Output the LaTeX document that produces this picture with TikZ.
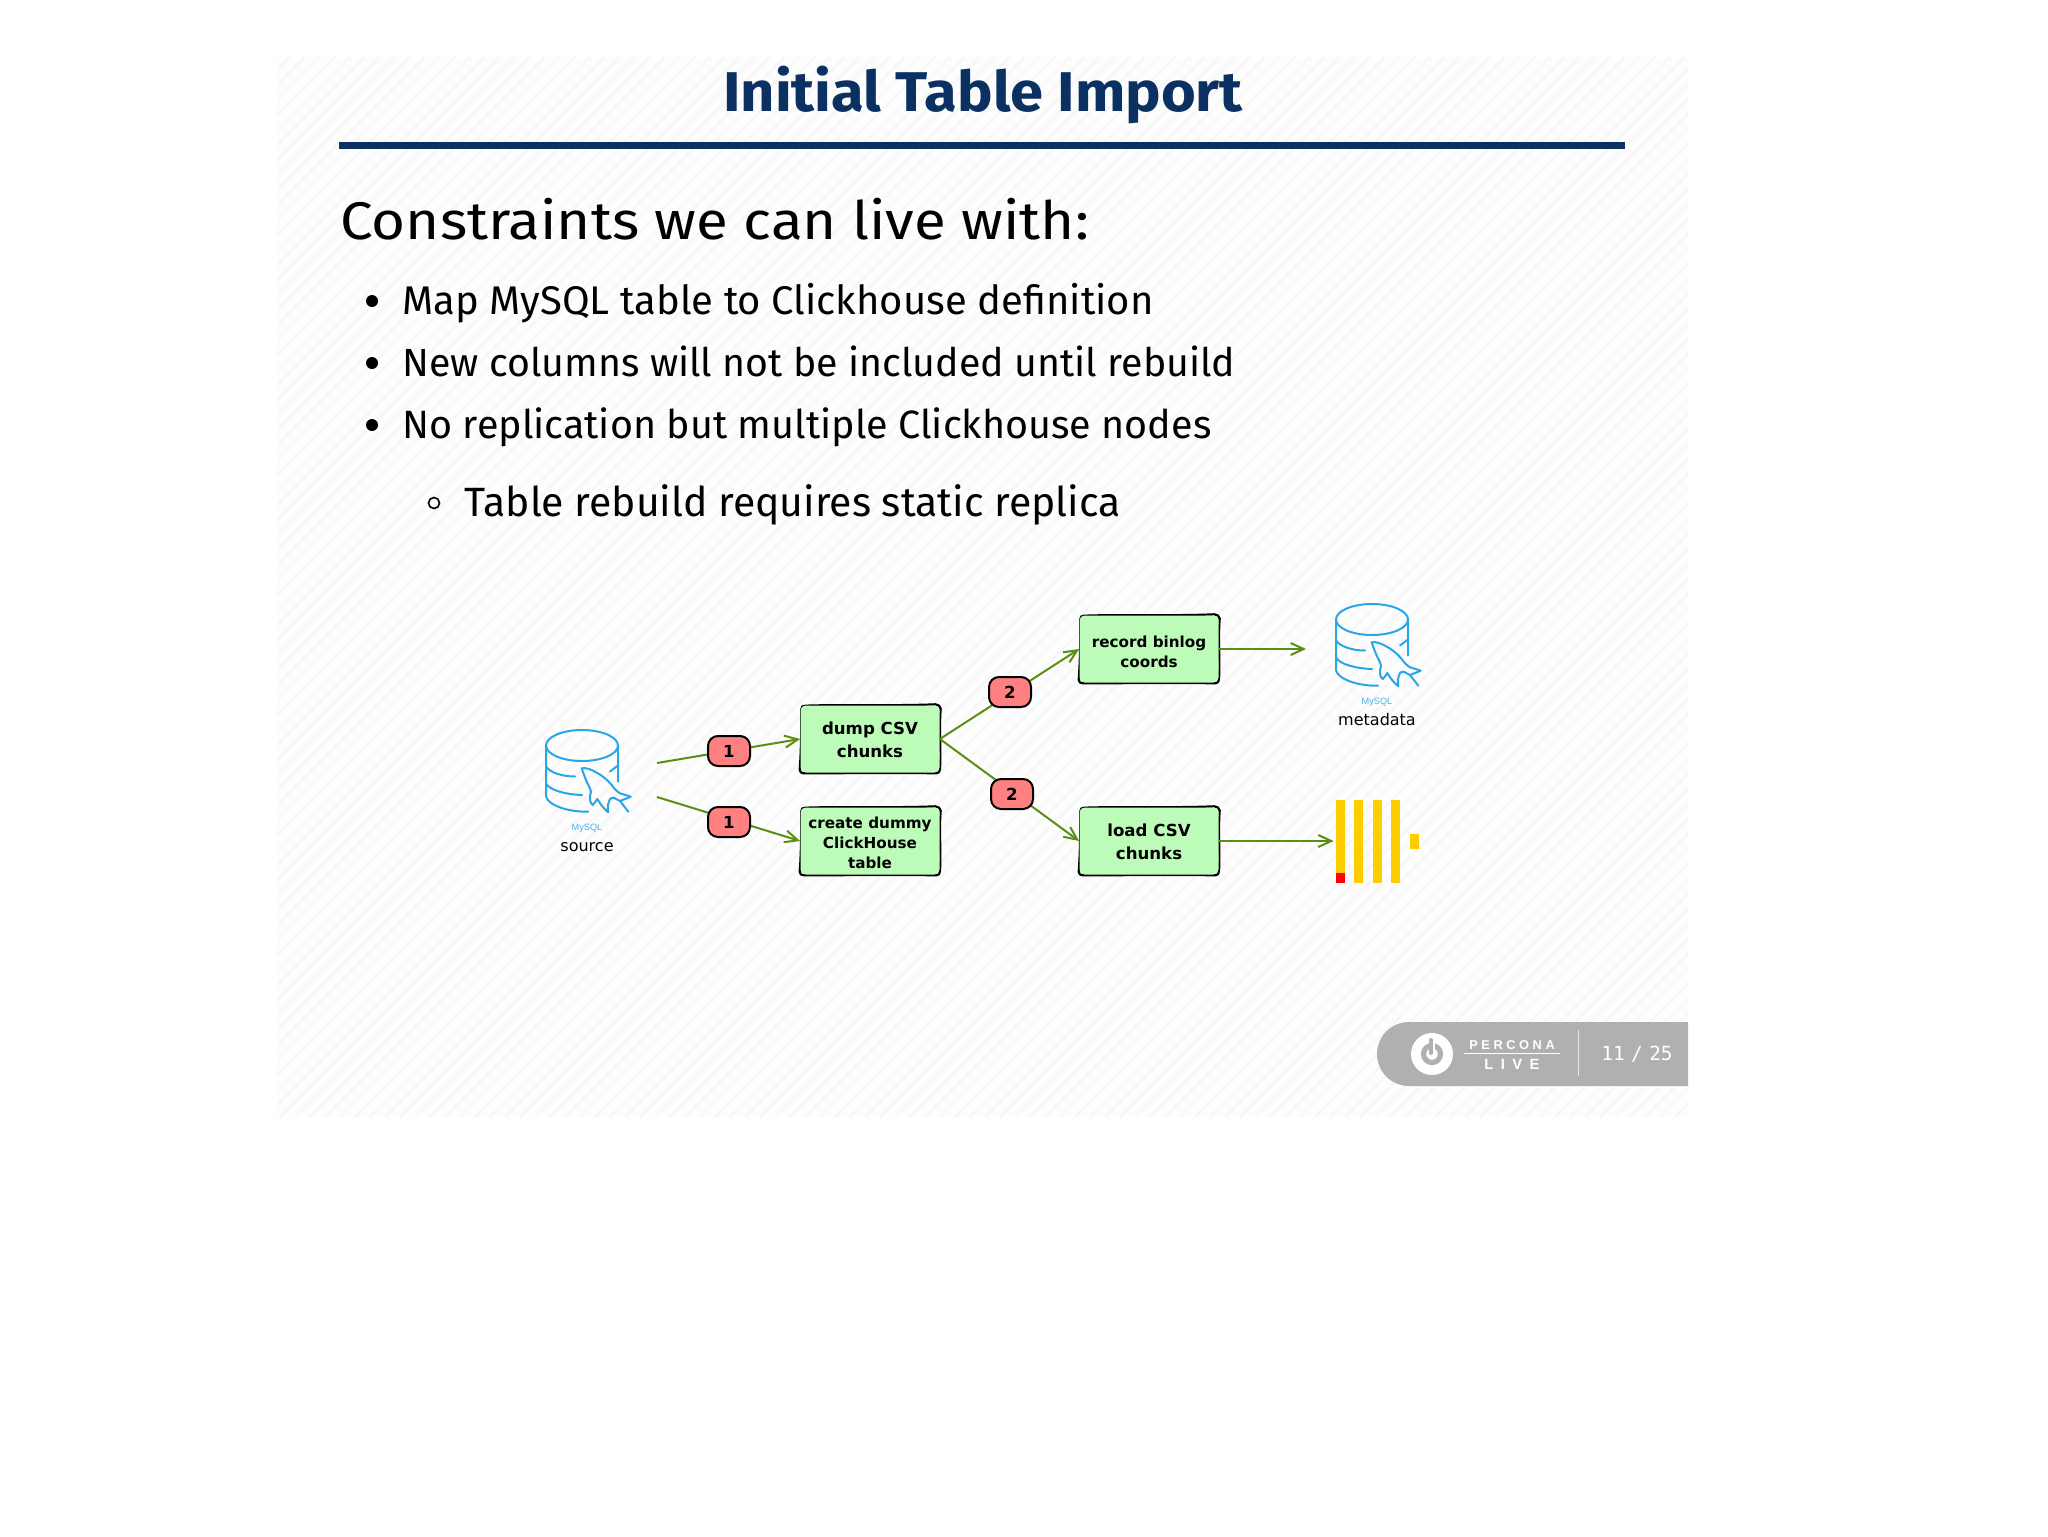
\documentclass[tikz,border=0pt]{standalone}
\usepackage{fontspec}
\usepackage{xcolor}
\setmainfont{Fira Sans}
\newfontfamily\titlefont[FakeStretch=1.065]{Fira Sans}
\newfontfamily\headfont[FakeStretch=1.1]{Fira Sans}
\newfontfamily\diagramfont{DejaVu Sans}
\newfontfamily\brandfont{Liberation Sans}
\newfontfamily\footerfont[LetterSpace=28]{Liberation Sans}
\newfontfamily\livefont[LetterSpace=50]{Liberation Sans}
\newfontfamily\pagefont[WordSpace=0.55]{DejaVu Sans Mono}
\usetikzlibrary{arrows.meta}

\definecolor{titleblue}{HTML}{0B3163}
\definecolor{slidepaper}{HTML}{FDFDFD}
\definecolor{slidehatch}{HTML}{F7F7F7}
\definecolor{boxgreen}{HTML}{BDFBB9}
\definecolor{badgered}{HTML}{FF8080}
\definecolor{flowgreen}{HTML}{5A8F14}
\definecolor{mysqlblue}{HTML}{29A6E6}
\definecolor{footergrey}{HTML}{B0AFB2}
\definecolor{chyellow}{HTML}{FFCC00}

\newcommand{\sketchoutline}{\draw[black, line width=1.1pt, line join=round]
	([xshift=0.6pt,yshift=-2.2pt]\tikzlastnode.north west) .. controls +(0pt,1.6pt) and +(-1.4pt,-0.2pt) .. ([xshift=2.6pt,yshift=-0.3pt]\tikzlastnode.north west)
	.. controls +(20pt,0.7pt) and +(-20pt,-0.9pt) .. ([xshift=-2.2pt,yshift=0.4pt]\tikzlastnode.north east)
	.. controls +(1.2pt,0pt) and +(0pt,1.2pt) .. ([xshift=0.4pt,yshift=-1.8pt]\tikzlastnode.north east)
	.. controls +(-0.9pt,-10pt) and +(0.7pt,8pt) .. ([xshift=0pt,yshift=1.8pt]\tikzlastnode.south east)
	.. controls +(0pt,-1.2pt) and +(1.2pt,0pt) .. ([xshift=-1.8pt,yshift=-0.2pt]\tikzlastnode.south east)
	.. controls +(-20pt,0.4pt) and +(20pt,0pt) .. ([xshift=1.8pt,yshift=-0.2pt]\tikzlastnode.south west)
	.. controls +(-1.2pt,0pt) and +(0pt,-1.2pt) .. ([xshift=-0.2pt,yshift=1.6pt]\tikzlastnode.south west)
	.. controls +(0.8pt,10pt) and +(0pt,-8pt) .. cycle;}

\tikzset{
	bodytext/.style={anchor=base west, inner sep=0pt, text=black},
	bulletdot/.style={circle, fill=black, inner sep=0pt, minimum size=6pt},
	bullethollow/.style={circle, draw=black, line width=0.8pt, inner sep=0pt, minimum size=5.5pt},
	stepbox/.style={fill=boxgreen, rounded corners=2.5pt, inner sep=0pt, minimum width=69.5pt, minimum height=33.5pt, align=center, text=black, font=\diagramfont\bfseries\fontsize{8.3}{11.5}\selectfont, append after command={\pgfextra{\sketchoutline}}},
	smallbox/.style={stepbox, font=\diagramfont\bfseries\fontsize{7.6}{10}\selectfont},
	badge/.style={draw=black, fill=badgered, line width=1pt, rounded corners=5pt, inner sep=0pt, minimum width=21pt, minimum height=15pt, text=black, font=\diagramfont\bfseries\fontsize{8.3}{10}\selectfont},
	flow/.style={draw=flowgreen, line width=1pt, -{Straight Barb[length=6.5pt, width=6pt, line width=1pt]}},
	brandtext/.style={inner sep=0pt, text=mysqlblue!85!white, font=\brandfont\fontsize{4.6}{5}\selectfont},
	dbtext/.style={inner sep=0pt, text=black, font=\diagramfont\fontsize{8}{10}\selectfont},
	footertext/.style={inner sep=0pt, text=white, font=\footerfont\bfseries\fontsize{6.4}{7}\selectfont},
	livetext/.style={inner sep=0pt, text=white, font=\livefont\bfseries\fontsize{7.4}{8}\selectfont},
	dbstroke/.style={draw=mysqlblue, line width=1pt, line cap=round, line join=round},
	mysqlicon/.pic={
		\draw[dbstroke] (0,0) ellipse (36 and 15.5);
		\draw[dbstroke] (-36,0) -- (-36,51) .. controls (-34,60) and (-12,67) .. (6,66);
		\draw[dbstroke] (36,0) -- (36,36);
		\draw[dbstroke] (-36,21) .. controls (-32,27) and (-20,31) .. (-7,31);
		\draw[dbstroke] (-36,38) .. controls (-32,45) and (-16,49) .. (0,49.5);
		\draw[dbstroke] (28,26) -- (36,20);
		\draw[dbstroke] (-0.3,22.8) .. controls (4,22) and (9,24) .. (13,26.2) .. controls (19,29) and (25,34) .. (29.7,39.5) .. controls (32,43) and (35,46) .. (38,47.8) .. controls (42,49) and (45,50) .. (48.7,51.2) .. controls (45,53) and (41,54) .. (38,55.5) -- (46.3,66.2);
		\draw[dbstroke] (38,55.5) .. controls (35,54) and (33,53) .. (32,52.2) .. controls (30,52) and (29,53) .. (28,53.5) .. controls (26,58) and (25,62) .. (26.3,66.8) .. controls (24,65) and (22,63) .. (20.7,61.2) .. controls (18,58) and (17,56) .. (15.3,53.5) .. controls (14,56) and (12,58) .. (10.7,59.5) .. controls (9,58) and (8,56) .. (8,54.5) .. controls (7,51) and (9,49) .. (9,46.2) .. controls (8,42) and (6,39) .. (4.7,36.2) .. controls (3,32) and (1,27) .. (-0.3,22.8);
	},
}

\begin{document}
\begin{tikzpicture}[x=0.5pt, y=-0.5pt]
		      \useasboundingbox (0,0) rectangle (2048,1536);
		      \fill[white] (0,0) rectangle (2048,1536);
		      \begin{scope}
		      \clip (277,57) rectangle (1688,1117);
		      \fill[slidepaper] (277,57) rectangle (1688,1117);
		      \foreach \hatchx in {-785,-770,...,1690} {
		      \draw[slidehatch, line width=1.2pt] (\hatchx,1117) -- ++(1060,-1060);
		      }
		      \end{scope}

		      \node[inner sep=0pt, anchor=base, text=titleblue, font=\titlefont\bfseries\fontsize{28}{32}\selectfont] (title) at (983,112) {Initial Table Import};
		      \fill[titleblue] (339,142) rectangle (1625,149);

		      \node[bodytext, font=\headfont\fontsize{26.5}{32}\selectfont] (heading) at (340,239) {Constraints we can live with:};
		      \node[bodytext, font=\fontsize{20}{24}\selectfont] (itemmap) at (402,314) {Map MySQL table to Clickhouse definition};
		      \node[bodytext, font=\fontsize{19.65}{24}\selectfont] (itemcolumns) at (402,376) {New columns will not be included until rebuild};
		      \node[bodytext, font=\fontsize{19.75}{24}\selectfont] (itemreplica) at (402,438) {No replication but multiple Clickhouse nodes};
		      \node[bodytext, font=\fontsize{20.45}{24}\selectfont] (itemstatic) at (464,516) {Table rebuild requires static replica};
		      \node[bulletdot] (dotmap) at (372,301) {};
		      \node[bulletdot] (dotcolumns) at (372,363) {};
		      \node[bulletdot] (dotreplica) at (372,425) {};
		      \node[bullethollow] (dotstatic) at (434,503) {};

		      \node[stepbox, text height=18.3pt] (dump) at (870,739) {dump CSV\\chunks};
		      \node[smallbox, text height=27.3pt] (create) at (870,841) {create dummy\\ClickHouse\\table};
		      \node[smallbox, text height=18.3pt] (record) at (1149,649) {record binlog\\coords};
		      \node[stepbox, text height=18.8pt] (load) at (1149,841) {load CSV\\chunks};

		      \pic at (582,745.5) {mysqlicon};
		      \node[brandtext] (sourcebrand) at (587,828) {MySQL};
		      \node[dbtext] (source) at (587,847) {source};
		      \pic at (1372,619.5) {mysqlicon};
		      \node[brandtext] (metabrand) at (1377,702) {MySQL};
		      \node[dbtext] (metadata) at (1377,720) {metadata};

		      \node[inner sep=0pt, minimum width=41.5pt, minimum height=41.5pt] (clickhouse) at (1377.5,841) {};
		      \fill[chyellow] (1336,800) rectangle (1345,883);
		      \fill[chyellow] (1354,800) rectangle (1363,883);
		      \fill[chyellow] (1373,800) rectangle (1382,883);
		      \fill[chyellow] (1391,800) rectangle (1400,883);
		      \fill[chyellow] (1410,834) rectangle (1419,849);
		      \fill[red] (1336,873) rectangle (1345,883);

		      \coordinate (sourceup) at (657,763);
		      \coordinate (sourcelow) at (657,797);
		      \coordinate (metain) at (1306,649);

		      \draw[flow] (sourceup) -- (dump.west);
		      \draw[flow] (sourcelow) -- (create.west);
		      \draw[flow] (dump.east) -- (record.west);
		      \draw[flow] (dump.east) -- (load.west);
		      \draw[flow] (record.east) -- (metain);
		      \draw[flow, shorten >=1pt] (load.east) -- (clickhouse.west);

		      \node[badge] (badgedump) at (729,751) {1};
		      \node[badge] (badgecreate) at (729,822) {1};
		      \node[badge] (badgerecord) at (1010,692) {2};
		      \node[badge] (badgeload) at (1012,794) {2};

		      \begin{scope}
		      \clip (1377,1022) rectangle (1688,1086);
		      \fill[footergrey, rounded corners=16pt] (1377,1022) rectangle (1760,1086);
		      \end{scope}
		      \node[circle, fill=white, inner sep=0pt, minimum size=21pt] (powerdisc) at (1432,1054) {};
		      \draw[footergrey, line width=2.6pt] (1432,1054) circle (8.5);
		      \draw[white, line width=3.4pt] (1432,1036) -- (1432,1050);
		      \draw[footergrey, line width=2pt, line cap=round] (1431,1040) -- (1431,1053);
		      \node[footertext] (percona) at (1512,1045) {PERCONA};
		      \draw[white, line width=0.5pt] (1464,1053.5) -- (1560,1053.5);
		      \node[livetext] (live) at (1512,1064) {LIVE};
		      \draw[white!70!footergrey, line width=0.5pt] (1578,1030) -- (1578,1076);
		      \node[inner sep=0pt, text=white, font=\pagefont\fontsize{9.7}{11}\selectfont] (pagecount) at (1637,1054) {11 / 25};
	      \end{tikzpicture}
\end{document}
